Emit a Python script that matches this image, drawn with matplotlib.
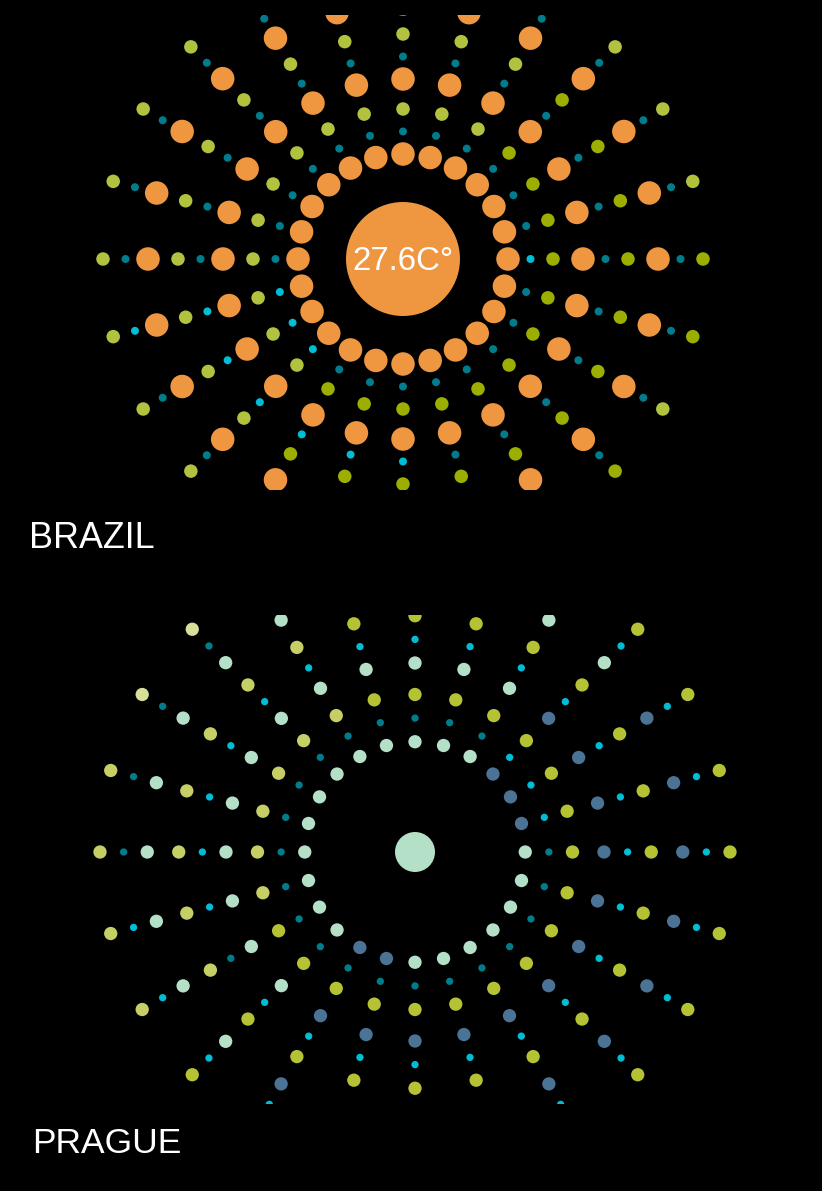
import numpy as np
import matplotlib
matplotlib.use("Agg")
import matplotlib.pyplot as plt
from matplotlib.patches import Circle

plt.rcParams['font.family'] = ['Liberation Sans', 'DejaVu Sans']

# ---------------- data ----------------
angles_deg = list(range(0, 360, 15))          # 24 rays, counter-clockwise from east

# BRAZIL: per ray, 3 rings (inner -> outer)
brazil_big = ["OOO"] * 24                      # orange temperature dots
brazil_small = ["CTT", "TTT", "TTT", "TTT", "TTT", "TTT", "TTT", "TTT",
                "TTT", "TTT", "TTT", "TTT", "TTT", "CCC", "CCT", "CCT",
                "TCC", "TCC", "TCC", "TTT", "TTT", "TTT", "TTT", "TTT"]
brazil_green = ["VVV", "VVL", "VVL", "VVL", "LLL", "LLL", "LLL", "LLL",
                "LLL", "LLL", "LLL", "LLL", "LLL", "LLL", "LLL", "LLL",
                "VVV", "VVV", "VVV", "VVV", "VVV", "VVV", "VVL", "VVV"]
brazil_center_text = "27.6C°"

# PRAGUE
prague_big = ["MBB", "BBB", "BBB", "BBM", "MMM", "MMM", "MMM", "MMM",
              "MMM", "MMM", "MMM", "MMM", "MMM", "MMM", "MMM", "MMM",
              "BBB", "BBB", "MBB", "MBB", "MBB", "MBB", "MBB", "MBB"]
prague_small = ["TCC", "CCC", "CCC", "CCC", "TCC", "TCC", "TCC", "TCC",
                "TCC", "TCT", "TCT", "TCT", "TCT", "TCC", "TTC", "TCC",
                "TCC", "TCC", "TCC", "TCC", "TCC", "TCC", "TCC", "TCC"]
prague_green = ["SSS", "SSS", "SSS", "SSS", "SSS", "SSS", "SSS", "SSS",
                "MMM", "MMP", "MMP", "MMM", "MMM", "MMM", "SMM", "SSS",
                "SSS", "SSS", "SSS", "SSS", "SSS", "SSS", "SSS", "SSS"]

labels = ["BRAZIL", "PRAGUE"]

# ---------------- styles ----------------
palette = {
    "O": "#ef9641",   # orange
    "T": "#007d8c",   # teal small
    "C": "#00bdd6",   # cyan small
    "V": "#9cae00",   # olive green
    "L": "#b2c23e",   # light green
    "M": "#b4e0c8",   # mint
    "B": "#4b7396",   # steel blue
}
prague_green_pal = {"S": "#b5c234", "M": "#c6ce66", "P": "#d8df98"}

W, H = 822, 1191
fig = plt.figure(figsize=(W / 100, H / 100), dpi=100, facecolor="black")


def make_axes(cx, cy, top, bottom):
    ax = fig.add_axes([0, 1 - bottom / H, 1, (bottom - top) / H])
    ax.set_facecolor("black")
    ax.set_xlim(-cx, W - cx)
    ax.set_ylim(-(bottom - cy), cy - top)
    ax.axis("off")
    return ax


def draw_rays(ax, radii, big, small, green, big_pal, green_pal, sizes):
    th = np.deg2rad(angles_deg)
    xs, ys, cs, ss = [], [], [], []
    for i, t in enumerate(th):
        for ring in range(3):
            codes = [(big[i][ring], big_pal, sizes[0]),
                     (small[i][ring], palette, sizes[1]),
                     (green[i][ring], green_pal, sizes[2])]
            for k, (code, pal, s) in enumerate(codes):
                r = radii[ring * 3 + k]
                xs.append(r * np.cos(t))
                ys.append(r * np.sin(t))
                cs.append(pal[code])
                ss.append(s)
    ax.scatter(xs, ys, s=ss, c=cs, linewidths=0, zorder=3)


def pt2(px):
    return (px * 0.72) ** 2


base_radii = np.array([105, 127.5, 150, 180, 202.5, 225, 255, 277.5, 300])

# Brazil
axb = make_axes(403, 259, 15, 490)
draw_rays(axb, base_radii, brazil_big, brazil_small, brazil_green,
          palette, palette, (pt2(23.5), pt2(8), pt2(13.5)))
axb.add_patch(Circle((0, 0), 57, color=palette["O"], lw=0, zorder=4))
axb.text(0, -2, brazil_center_text, color="white", fontsize=23.8,
         ha="center", va="center", zorder=5)

# Prague
axp = make_axes(415, 852, 615, 1104)
draw_rays(axp, base_radii * 1.05, prague_big, prague_small, prague_green,
          palette, prague_green_pal, (pt2(13.3), pt2(7.3), pt2(13.3)))
axp.add_patch(Circle((0, 0), 20, color=palette["M"], lw=0, zorder=4))

# Labels
fig.text(29 / W, 1 - 548 / H, labels[0], color="white", fontsize=25.8,
         ha="left", va="baseline")
fig.text(32 / W, 1 - 1153 / H, labels[1], color="white", fontsize=25.5,
         ha="left", va="baseline")

fig.savefig("out.png", dpi=100, facecolor="black")
